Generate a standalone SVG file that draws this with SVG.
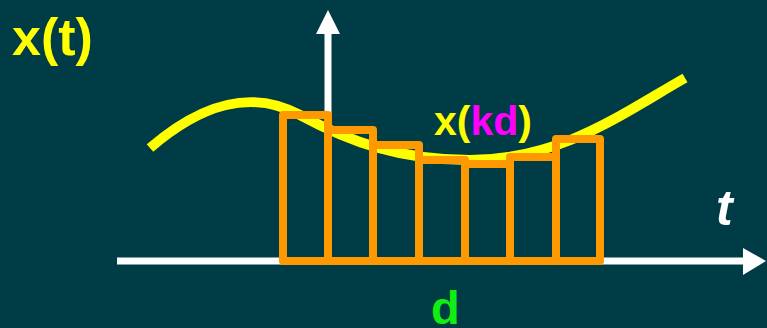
<svg xmlns="http://www.w3.org/2000/svg" width="767" height="328" viewBox="0 0 767 328">
<style>
.bar{fill:none;stroke:#ff9900;stroke-width:8;stroke-linejoin:round}
.ax{stroke:#ffffff;stroke-width:7;fill:none}
.lbl{font-family:"Liberation Sans",Arial,sans-serif;font-weight:bold}
</style>
<rect x="0" y="0" width="767" height="328" fill="#003c46"/>
<g id="axes">
<line class="ax" x1="117" y1="261" x2="745" y2="261"/>
<polygon points="766,261 743,248 743,275" fill="#ffffff"/>
<line class="ax" x1="328" y1="262" x2="328" y2="32"/>
<polygon points="328,10 316,34 340,34" fill="#ffffff"/>
</g>
<g id="curve">
<path d="M150,148 C200,105 250,88 300,115 C350,142 400,160 470,160 C560,160 620,115 685,78" fill="none" stroke="#ffff00" stroke-width="10"/>
</g>
<g id="bars">
<rect class="bar" x="283" y="115" width="45" height="146"/>
<rect class="bar" x="328" y="130" width="45" height="131"/>
<rect class="bar" x="373" y="145" width="46" height="116"/>
<rect class="bar" x="419" y="160" width="46" height="101"/>
<rect class="bar" x="465" y="164" width="45" height="97"/>
<rect class="bar" x="510" y="157" width="46" height="104"/>
<rect class="bar" x="556" y="139" width="44" height="122"/>
</g>
<g id="labels">
<text class="lbl" x="12" y="55" font-size="52" fill="#ffff00">x(t)</text>
<text class="lbl" x="434" y="135" font-size="41" fill="#ffff00">x(<tspan fill="#ff00ff">kd</tspan>)</text>
<text class="lbl" x="716" y="225" font-size="50" font-style="italic" fill="#ffffff">t</text>
<text class="lbl" x="431" y="324" font-size="47" fill="#11ee11">d</text>
</g>
</svg>
